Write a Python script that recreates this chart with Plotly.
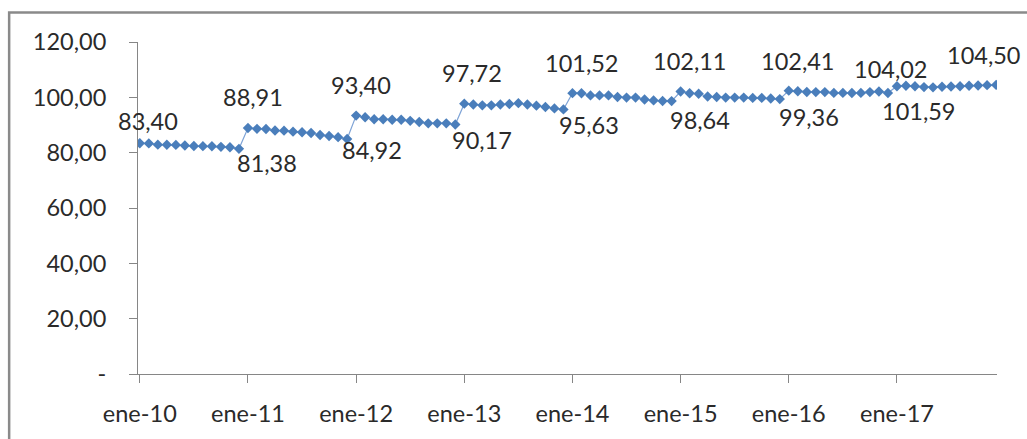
import plotly.graph_objects as go

# Monthly index values, January 2010 to December 2017
meses = ["ene", "feb", "mar", "abr", "may", "jun", "jul", "ago", "sep", "oct", "nov", "dic"]
anios = ["10", "11", "12", "13", "14", "15", "16", "17"]

valores_2010 = [83.40, 83.35, 82.90, 82.85, 82.80, 82.60, 82.40, 82.35, 82.30, 82.10, 81.95, 81.38]
valores_2011 = [88.91, 88.60, 88.55, 88.00, 87.95, 87.60, 87.40, 87.10, 86.40, 86.00, 85.60, 84.92]
valores_2012 = [93.40, 92.80, 92.10, 92.10, 91.90, 91.90, 91.50, 91.10, 90.60, 90.60, 90.60, 90.17]
valores_2013 = [97.72, 97.40, 97.10, 97.10, 97.40, 97.60, 97.90, 97.40, 97.00, 96.50, 96.00, 95.63]
valores_2014 = [101.52, 101.50, 100.70, 100.70, 100.70, 100.10, 99.90, 99.90, 99.20, 98.90, 98.70, 98.64]
valores_2015 = [102.11, 101.50, 101.30, 100.30, 100.10, 99.90, 99.90, 99.90, 99.80, 99.80, 99.60, 99.36]
valores_2016 = [102.41, 102.20, 101.95, 101.90, 101.90, 101.60, 101.60, 101.55, 101.60, 101.90, 102.10, 101.59]
valores_2017 = [104.02, 104.20, 104.00, 103.70, 103.60, 103.80, 103.90, 104.00, 104.20, 104.30, 104.40, 104.50]

serie = (valores_2010 + valores_2011 + valores_2012 + valores_2013
         + valores_2014 + valores_2015 + valores_2016 + valores_2017)
periodos = [f"{m}-{a}" for a in anios for m in meses]
posiciones = list(range(len(serie)))

# Axis ticks
ticks_x = [f"ene-{a}" for a in anios]
ticks_y = [0, 20, 40, 60, 80, 100, 120]
ticks_y_texto = ["-", "20,00", "40,00", "60,00", "80,00", "100,00", "120,00"]

# Labelled points (January and December of each year) with their label offsets in px
puntos_etiqueta = [0, 11, 12, 23, 24, 35, 36, 47, 48, 59, 60, 71, 72, 83, 84, 95]
desplaz_x = [8, 28, 5, 25, 5, 27, 8, 26, 9, 28, 9, 29, 9, 31, -6, -13]
desplaz_y = [22, -14, 31, -11, 31, -15, 31, -16, 30, -19, 31, -18, 30, -18, 17, 30]

FUENTE = "Lato, Open Sans, sans-serif"
TAM = 23.5
GRIS = "#868686"
TEXTO = "#2a2a2a"

fig = go.Figure()
fig.add_trace(go.Scatter(
    x=posiciones,
    y=serie,
    customdata=periodos,
    mode="lines+markers",
    line=dict(color="#7ea3d6", width=1.2),
    marker=dict(symbol="diamond", size=8, color="#4a7ebb"),
    hovertemplate="%{customdata}: %{y:.2f}<extra></extra>",
    showlegend=False,
))

anotaciones = []
for i, dx, dy in zip(puntos_etiqueta, desplaz_x, desplaz_y):
    anotaciones.append(dict(
        x=posiciones[i], y=serie[i],
        xref="x", yref="y",
        text=f"{serie[i]:.2f}".replace(".", ","),
        showarrow=False,
        xanchor="center", yanchor="middle",
        xshift=dx, yshift=dy,
        font=dict(family=FUENTE, size=TAM, color=TEXTO),
    ))

fig.update_layout(
    width=1027, height=439,
    margin=dict(l=138, r=30, t=42, b=61),
    paper_bgcolor="white",
    plot_bgcolor="white",
    font=dict(family=FUENTE, size=TAM, color=TEXTO),
    annotations=anotaciones,
    shapes=[dict(
        type="rect", xref="paper", yref="paper",
        x0=-0.150, x1=1.2, y0=-0.5, y1=1.089,
        line=dict(color="#8a8a8a", width=2.5),
        fillcolor="rgba(0,0,0,0)", layer="below",
    )],
    xaxis=dict(
        range=[-0.2, 95.1],
        tickmode="array",
        tickvals=[posiciones[12 * k] for k in range(len(anios))],
        ticktext=ticks_x,
        showgrid=False, zeroline=False,
        showline=True, linecolor=GRIS, linewidth=1,
        ticks="outside", ticklen=8, tickcolor=GRIS,
        ticklabelstandoff=11,
        fixedrange=True,
    ),
    yaxis=dict(
        range=[0, 120],
        tickmode="array",
        tickvals=ticks_y,
        ticktext=ticks_y_texto,
        showgrid=False, zeroline=False,
        showline=True, linecolor=GRIS, linewidth=1,
        ticks="outside", ticklen=8, tickcolor=GRIS,
        ticklabelstandoff=18,
        fixedrange=True,
    ),
)

fig.write_html("out.html")
